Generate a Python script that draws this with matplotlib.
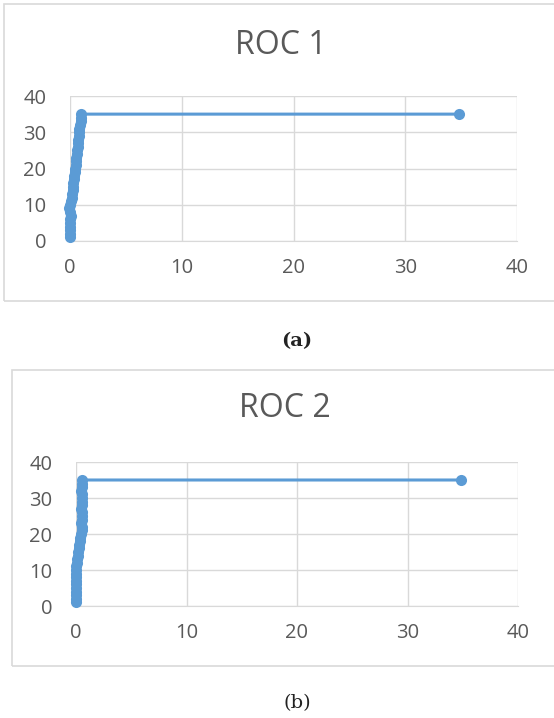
import matplotlib
matplotlib.use("Agg")
import matplotlib.pyplot as plt
from matplotlib.patches import Rectangle

# ROC 1 points (false positives vs true positives)
roc1_fp = [0.0, 0.0, 0.0, 0.0, 0.0, 0.0, 0.05, 0.0, -0.05, 0.0,
           0.1, 0.15, 0.2, 0.25, 0.3, 0.3, 0.35, 0.4, 0.45, 0.45,
           0.5, 0.55, 0.55, 0.6, 0.65, 0.7, 0.75, 0.75, 0.8, 0.85,
           0.85, 0.9, 0.95, 1.0, 1.0, 34.8]
roc1_tp = [1, 2, 3, 4, 5, 6, 7, 8, 9, 10,
           11, 12, 13, 14, 15, 16, 17, 18, 19, 20,
           21, 22, 23, 24, 25, 26, 27, 28, 29, 30,
           31, 32, 33, 34, 35, 35]

# ROC 2 points
roc2_fp = [0.0, 0.0, 0.0, 0.0, 0.0, 0.0, 0.0, 0.0, 0.0, 0.0,
           0.0, 0.05, 0.1, 0.15, 0.2, 0.25, 0.3, 0.35, 0.4, 0.45,
           0.5, 0.5, 0.45, 0.5, 0.55, 0.5, 0.45, 0.5, 0.55, 0.5,
           0.5, 0.45, 0.5, 0.5, 0.55, 34.8]
roc2_tp = roc1_tp

titles = ["ROC 1", "ROC 2"]
captions = ["(a)", "(b)"]
ticks = [0, 10, 20, 30, 40]

W, H = 554, 718
BLUE = "#5B9BD5"
GREY = "#595959"
GRID = "#D9D9D9"


def fx(px):
    return px / W


def fy(py):
    return 1 - py / H


def roc_panel(fig, rect, title, tpos, xs, ys):
    l, t, r, b = rect
    ax = fig.add_axes([fx(l), fy(b), fx(r - l), (b - t) / H])
    ax.plot(xs, ys, color=BLUE, lw=2.2, marker="o", ms=8,
            markeredgewidth=0, clip_on=False, zorder=3)
    ax.set_xlim(0, 40)
    ax.set_ylim(0, 40)
    ax.set_xticks(ticks)
    ax.set_yticks(ticks)
    ax.grid(True, color=GRID, lw=1)
    ax.set_axisbelow(True)
    for s in ["top", "right", "left"]:
        ax.spines[s].set_visible(False)
    ax.spines["bottom"].set_color(GRID)
    ax.tick_params(length=0, labelsize=14.5, labelcolor=GREY)
    ax.tick_params(axis="y", pad=17)
    ax.tick_params(axis="x", pad=12)
    fig.text(fx(tpos[0]), fy(tpos[1]), title, ha="center", va="center",
             fontsize=23, color=GREY, family="Open Sans")
    return ax


def main():
    plt.rcParams["font.family"] = ["Open Sans", "DejaVu Sans"]
    fig = plt.figure(figsize=(W / 100, H / 100), dpi=100)

    # chart frames
    fig.add_artist(Rectangle((fx(4), fy(301)), fx(560), (301 - 4) / H,
                             transform=fig.transFigure, fill=False,
                             edgecolor=GRID, lw=1.2))
    fig.add_artist(Rectangle((fx(12), fy(666)), fx(560), (666 - 370) / H,
                             transform=fig.transFigure, fill=False,
                             edgecolor=GRID, lw=1.2))

    roc_panel(fig, (70, 96, 517, 241), titles[0], (281, 45), roc1_fp, roc1_tp)
    roc_panel(fig, (76, 462, 518, 606), titles[1], (285, 409), roc2_fp, roc2_tp)

    fig.text(fx(297), fy(341), captions[0], ha="center", va="center",
             fontsize=14, family="DejaVu Serif", fontweight="bold",
             color="#222222")
    fig.text(fx(297), fy(703), captions[1], ha="center", va="center",
             fontsize=14, family="DejaVu Serif", color="#222222")

    fig.savefig("out.png", dpi=100)


if __name__ == "__main__":
    main()
